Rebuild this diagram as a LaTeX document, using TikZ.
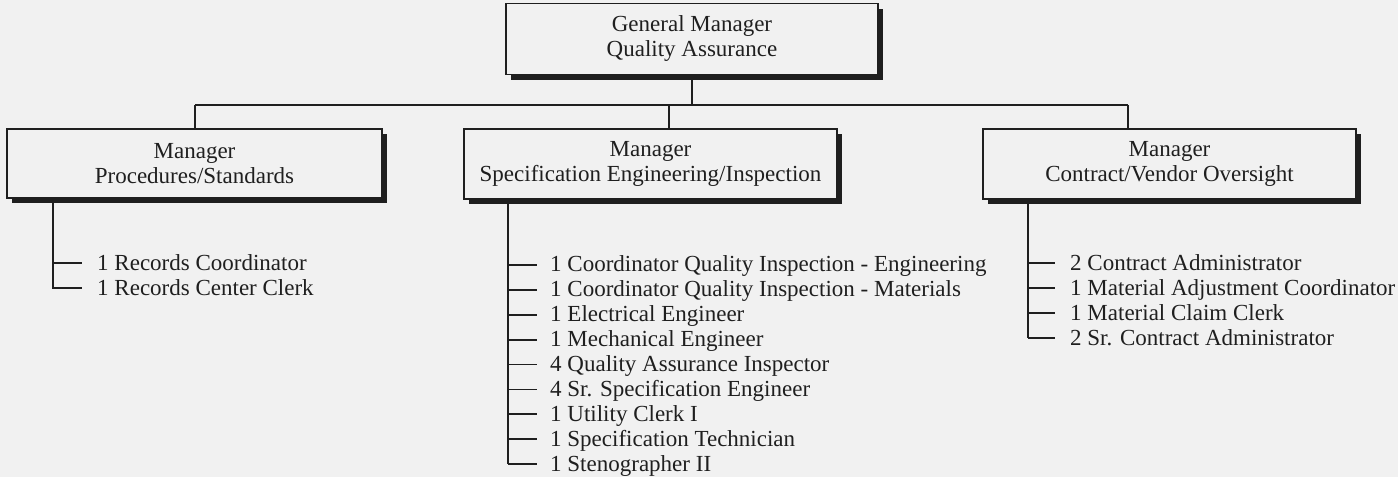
\documentclass[tikz,border=0pt]{standalone}
\usepackage{fontspec}
\setmainfont{Liberation Serif}
\usetikzlibrary{shadows}
\definecolor{paper}{gray}{0.945}
\definecolor{ink}{gray}{0.12}
\begin{document}
\begin{tikzpicture}[x=1pt,y=-1pt,
  every node/.style={font=\fontsize{23}{25}\selectfont, text=ink},
  box/.style={draw=ink, line width=1.8pt, fill=paper, align=center, inner sep=0pt,
    drop shadow={shadow xshift=5pt, shadow yshift=-5pt, fill=ink, opacity=1}},
  item/.style={anchor=base west, inner sep=0pt},
  wire/.style={draw=ink, line width=1.8pt}]
\fill[paper] (0,0) rectangle (1398,477);
\useasboundingbox (0,0) rectangle (1398,477);

\node[box, minimum width=372pt, minimum height=71pt] (gm) at (692,39) {General Manager\\Quality Assurance};
\node[box, minimum width=375pt, minimum height=69pt] (ps) at (194.5,163.5) {Manager\\Procedures/Standards};
\node[box, minimum width=373pt, minimum height=70pt] (se) at (650.5,164) {Manager\\Specification Engineering/Inspection};
\node[box, minimum width=373pt, minimum height=70pt] (cv) at (1169.5,164) {Manager\\Contract/Vendor Oversight};

\coordinate (busL) at (195,105);
\coordinate (busM) at (669,105);
\coordinate (busR) at (1128,105);
\draw[wire] (busL) -- (busR);
\draw[wire] (gm.south) -- (gm.south |- busL);
\draw[wire] (busL) -- (busL |- ps.north);
\draw[wire] (busM) -- (busM |- se.north);
\draw[wire] (busR) -- (busR |- cv.north);

% Procedures/Standards list
\coordinate (psx) at (53,0);
\coordinate (pt1) at (53,263);
\coordinate (pt2) at (53,288);
\node[item] (p1) at (97,270) {1 Records Coordinator};
\node[item] (p2) at (97,295) {1 Records Center Clerk};
\draw[wire] (psx |- ps.south) -- (pt2) -- ++(29,0);
\draw[wire] (pt1) -- ++(29,0);

% Specification Engineering/Inspection list
\coordinate (sex) at (508,0);
\foreach \t [count=\i] in {1 Coordinator Quality Inspection - Engineering,
  1 Coordinator Quality Inspection - Materials,
  1 Electrical Engineer,
  1 Mechanical Engineer,
  4 Quality Assurance Inspector,
  4 Sr. Specification Engineer,
  1 Utility Clerk I,
  1 Specification Technician,
  1 Stenographer II}{
  \coordinate (st\i) at (508,{240+24.9*\i});
  \node[item] (s\i) at (550,{247+24.9*\i}) {\t};
  \draw[wire] (st\i) -- ++(29,0);
}
\draw[wire] (sex |- se.south) -- (st9);

% Contract/Vendor Oversight list
\coordinate (cvx) at (1028,0);
\foreach \t [count=\i] in {2 Contract Administrator,
  1 Material Adjustment Coordinator,
  1 Material Claim Clerk,
  2 Sr. Contract Administrator}{
  \coordinate (ct\i) at (1028,{238+25*\i});
  \node[item] (c\i) at (1070,{245+25*\i}) {\t};
  \draw[wire] (ct\i) -- ++(27,0);
}
\draw[wire] (cvx |- cv.south) -- (ct4);
\end{tikzpicture}
\end{document}
